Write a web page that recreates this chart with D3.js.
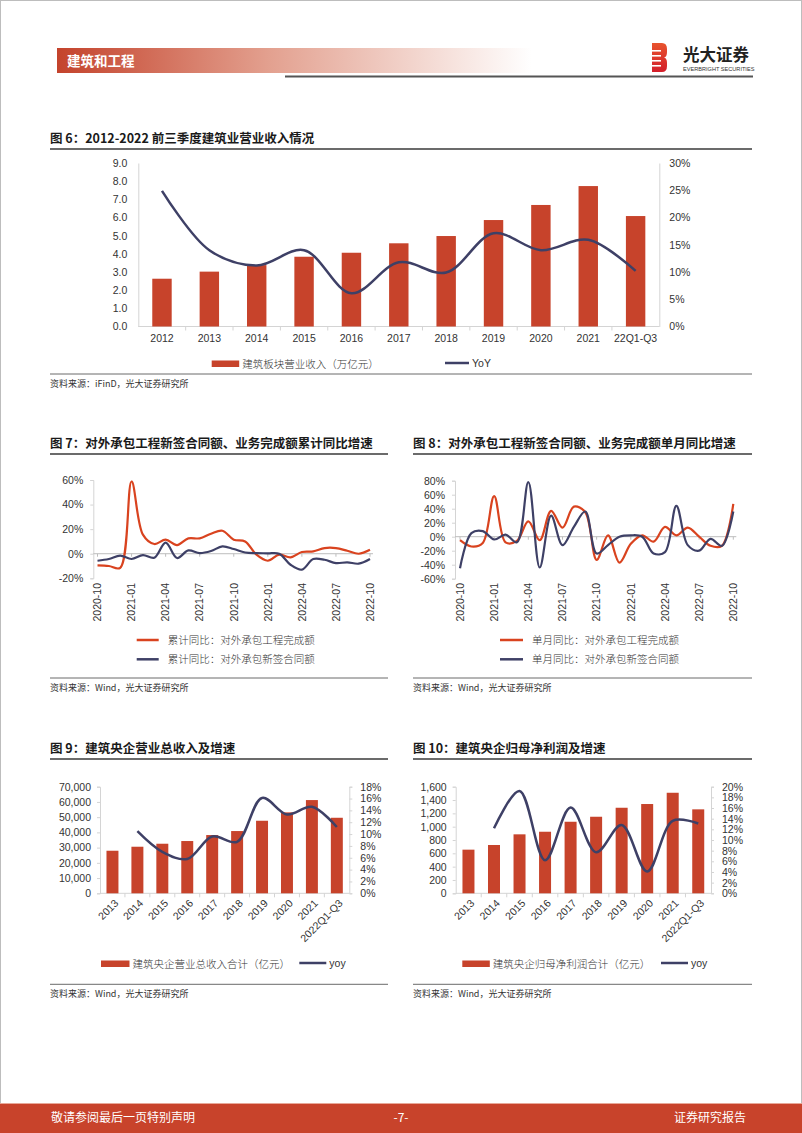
<!DOCTYPE html>
<html><head><meta charset="utf-8">
<script src="https://cdn.jsdelivr.net/npm/d3@7"></script>
<style>
body{margin:0;background:#fff}
svg{display:block}
text{font-family:"Liberation Sans",Arial,sans-serif}
</style></head><body>
<svg id="page" width="802" height="1133"></svg>
<script>
// ---------------- DATA ----------------
const fig6Categories = ["2012","2013","2014","2015","2016","2017","2018","2019","2020","2021","22Q1-Q3"];
const fig6Revenue = [2.63,3.02,3.38,3.84,4.06,4.58,4.98,5.86,6.69,7.73,6.08];
const fig6Yoy = [24.9,14.0,11.2,14.0,6.1,11.8,9.9,17.1,14.0,15.9,10.2];
const fig6LeftTicks = [0,1,2,3,4,5,6,7,8,9];
const fig6RightTicks = [0,5,10,15,20,25,30];

const fig78Months = ["2020-10","2020-11","2020-12","2021-01","2021-02","2021-03","2021-04","2021-05","2021-06","2021-07","2021-08","2021-09","2021-10","2021-11","2021-12","2022-01","2022-02","2022-03","2022-04","2022-05","2022-06","2022-07","2022-08","2022-09","2022-10"];
const fig78TickMonths = ["2020-10","2021-01","2021-04","2021-07","2021-10","2022-01","2022-04","2022-07","2022-10"];
const fig7Complete = [-9.5,-10,-11.5,58.8,15.5,7.9,11.4,7,12.5,12.5,16.3,18.7,11.4,10,-0.8,-5.7,-0.8,-3,1.4,1.9,4.6,4.6,2.4,0,3.2];
const fig7NewSign = [-5.7,-4.3,-1.6,-4.3,-1.1,-3.3,9,-3.5,2.7,0.5,2.2,6,3.8,1,0.5,0.3,0,-9,-13,-4.3,-4.9,-7.6,-7,-8.1,-4.3];
const fig7Ticks = [-20,0,20,40,60];
const fig8Complete = [-5,-14,-9,58,-8,-6,22,-5,37,13,43,35,-33,2,-37,-10,2,-7,14,2,13,0,-13,-13,47];
const fig8NewSign = [-45,5,8,-4,3,-8,78,-44,30,-12,14,36,-24,-12,0,2,0,-24,-22,44,-12,-20,-3,-13,36];
const fig8Ticks = [-60,-40,-20,0,20,40,60,80];

const fig910Categories = ["2013","2014","2015","2016","2017","2018","2019","2020","2021","2022Q1-Q3"];
const fig9Revenue = [27950,30580,32550,34320,38250,40880,47640,53150,61220,49600];
const fig9Yoy = [null,10.5,7.0,5.8,9.6,8.7,16.1,13.3,14.6,11.2];
const fig9LeftTicks = [0,10000,20000,30000,40000,50000,60000,70000];
const fig9RightTicks = [0,2,4,6,8,10,12,14,16,18];
const fig10Profit = [655,725,885,924,1074,1149,1284,1340,1509,1260];
const fig10Yoy = [null,12.2,19.2,6.2,16.1,7.7,12.8,4.1,13.6,13.1];
const fig10LeftTicks = [0,200,400,600,800,1000,1200,1400,1600];
const fig10RightTicks = [0,2,4,6,8,10,12,14,16,18,20];

// ---------------- STYLE ----------------
const BAR = "#c7432b", NAVY = "#3e4066", RED = "#d9431f", AXIS = "#d4d4d4", TXT = "#333";
const CN = '"Noto Sans CJK SC","Noto Sans CJK JP",sans-serif';

const svg = d3.select("#page");
const defs = svg.append("defs");

// page border
svg.append("rect").attr("x",0.5).attr("y",0.5).attr("width",801).attr("height",1132)
  .attr("fill","none").attr("stroke","#bdbdbd");

// ---------------- HEADER ----------------
const hg = defs.append("linearGradient").attr("id","hdr").attr("x1","0").attr("x2","1");
hg.append("stop").attr("offset","0").attr("stop-color","#c4432c");
hg.append("stop").attr("offset","0.45").attr("stop-color","#e3a190");
hg.append("stop").attr("offset","1").attr("stop-color","#ffffff");
svg.append("rect").attr("x",57).attr("y",48).attr("width",475).attr("height",25).attr("fill","url(#hdr)");
svg.append("text").attr("x",67).attr("y",65.5).text("建筑和工程")
  .attr("fill","#fff").style("font-family",CN).style("font-weight",700).style("font-size","13.5px");
svg.append("line").attr("x1",285).attr("x2",753).attr("y1",76.5).attr("y2",76.5).attr("stroke","#555").attr("stroke-width",2);

// logo
const lg = defs.append("linearGradient").attr("id","logo").attr("x1","0").attr("x2","0").attr("y1","0").attr("y2","1");
lg.append("stop").attr("offset","0").attr("stop-color","#e8542e");
lg.append("stop").attr("offset","1").attr("stop-color","#d31e2a");
svg.append("path").attr("d","M652,43 H662 Q667,43 667,49 V52 Q667,57 664,57.5 Q667,58 667,63 V66 Q667,72 662,72 H652 Z").attr("fill","url(#logo)");
[50,55,60,65].forEach(yy=>{
  svg.append("rect").attr("x",652).attr("y",yy).attr("width",9).attr("height",1.6).attr("fill","#fff");
});
svg.append("text").attr("x",683).attr("y",61).text("光大证券")
  .attr("fill","#222").style("font-family",CN).style("font-weight",700).style("font-size","16.5px");
svg.append("text").attr("x",683).attr("y",70.5).text("EVERBRIGHT SECURITIES")
  .attr("fill","#333").style("font-size","5.6px");

// ---------------- FOOTER ----------------
svg.append("rect").attr("x",0).attr("y",1103).attr("width",802).attr("height",30).attr("fill","#c8432b");
svg.append("line").attr("x1",0).attr("x2",802).attr("y1",1103.5).attr("y2",1103.5).attr("stroke","#e8a898");
svg.append("text").attr("x",51).attr("y",1122).text("敬请参阅最后一页特别声明")
  .attr("fill","#fff").style("font-family",CN).style("font-size","12px");
svg.append("text").attr("x",401).attr("y",1122).attr("text-anchor","middle").text("-7-")
  .attr("fill","#fff").style("font-family",CN).style("font-size","12px");
svg.append("text").attr("x",746).attr("y",1122).attr("text-anchor","end").text("证券研究报告")
  .attr("fill","#fff").style("font-family",CN).style("font-size","12px");

// ---------------- helpers ----------------
function title(x, y, x2, str){
  svg.append("text").attr("x",x).attr("y",y).text(str)
    .attr("fill","#1a1a1a").style("font-family",CN).style("font-weight",700).style("font-size","12.5px");
  svg.append("line").attr("x1",x).attr("x2",x2).attr("y1",y+6.5).attr("y2",y+6.5)
    .attr("stroke","#6b6b6b").attr("stroke-width",2);
}
function source(x, y, x2, str){
  svg.append("line").attr("x1",x).attr("x2",x2).attr("y1",y).attr("y2",y).attr("stroke","#444").attr("stroke-width",0.8);
  svg.append("text").attr("x",x).attr("y",y+12.5).text(str)
    .attr("fill",TXT).style("font-family",CN).style("font-size","9px");
}
function styleAxis(sel, fs){
  sel.select(".domain").attr("stroke",AXIS);
  sel.selectAll(".tick line").attr("stroke",AXIS);
  sel.selectAll(".tick text").attr("fill",TXT).style("font-family",'"Liberation Sans",Arial,sans-serif').style("font-size",fs);
}
function legendBar(x, y, w, label){
  svg.append("rect").attr("x",x).attr("y",y-3).attr("width",w).attr("height",6.5).attr("fill",BAR);
  svg.append("text").attr("x",x+w+3).attr("y",y+4).text(label)
    .attr("fill",TXT).style("font-family",CN).style("font-weight",300).style("font-size","10.5px");
}
function legendLine(x, y, w, color, label, latin){
  svg.append("line").attr("x1",x).attr("x2",x+w).attr("y1",y).attr("y2",y).attr("stroke",color).attr("stroke-width",2.5);
  const t = svg.append("text").attr("x",x+w+(latin?3:9)).attr("y",y+4).text(label).attr("fill",TXT)
    .style("font-size","10.5px");
  if(!latin) t.style("font-family",CN).style("font-weight",300);
}

// combo: bars (left axis) + smooth line (right axis)
function combo(o){
  const x = d3.scaleBand().domain(o.cats).range([o.x0,o.x1]).padding(0);
  const yL = d3.scaleLinear().domain([o.leftTicks[0], o.leftTicks[o.leftTicks.length-1]]).range([o.yB,o.yT]);
  const yR = d3.scaleLinear().domain([o.rightTicks[0], o.rightTicks[o.rightTicks.length-1]]).range([o.yB,o.yT]);

  const aL = svg.append("g").attr("transform",`translate(${o.x0},0)`)
    .call(d3.axisLeft(yL).tickValues(o.leftTicks).tickFormat(o.leftFmt).tickSizeOuter(0).tickSize(o.tick).tickPadding(o.padL));
  styleAxis(aL, o.fs);
  const aR = svg.append("g").attr("transform",`translate(${o.x1},0)`)
    .call(d3.axisRight(yR).tickValues(o.rightTicks).tickFormat(d=>d+"%").tickSizeOuter(0).tickSize(o.tick).tickPadding(o.padR));
  styleAxis(aR, o.fs);
  aR.selectAll(".tick text").attr("text-anchor","start");

  // bottom axis line + ticks between categories
  svg.append("line").attr("x1",o.x0).attr("x2",o.x1).attr("y1",o.yB).attr("y2",o.yB).attr("stroke",AXIS);
  o.cats.forEach((c,i)=>{
    if(i===0) return;
    const bx = x(c);
    svg.append("line").attr("x1",bx).attr("x2",bx).attr("y1",o.yB).attr("y2",o.yB+4).attr("stroke",AXIS);
  });

  // bars
  const bw = x.bandwidth()*o.barFrac;
  svg.append("g").selectAll("rect").data(o.bars).join("rect")
    .attr("x",(d,i)=>x(o.cats[i])+(x.bandwidth()-bw)/2)
    .attr("y",d=>yL(d)).attr("width",bw).attr("height",d=>o.yB-yL(d)).attr("fill",BAR);

  // line
  const line = d3.line().defined(d=>d!=null)
    .x((d,i)=>x(o.cats[i])+x.bandwidth()/2).y(d=>yR(d)).curve(d3.curveCatmullRom.alpha(0.5));
  const pts = o.line.map((d,i)=>d);
  svg.append("path").datum(pts).attr("d",line).attr("fill","none").attr("stroke",NAVY).attr("stroke-width",o.lw);

  // x labels
  const lab = svg.append("g");
  o.cats.forEach(c=>{
    const cx = x(c)+x.bandwidth()/2;
    if(o.rot){
      lab.append("text").attr("transform",`translate(${cx+4},${o.yB+8}) rotate(-45)`)
        .attr("text-anchor","end").attr("dy","0.35em").text(c)
        .attr("fill",TXT).style("font-size",o.fs);
    } else {
      lab.append("text").attr("x",cx).attr("y",o.yB+15.5).attr("text-anchor","middle").text(c)
        .attr("fill",TXT).style("font-size",o.fs);
    }
  });
}

// twin line chart
function lines(o){
  const x = d3.scalePoint().domain(fig78Months).range([o.xa,o.xb]);
  const y = d3.scaleLinear().domain([o.ticks[0],o.ticks[o.ticks.length-1]]).range([o.yB,o.yT]);
  const ax = svg.append("g").attr("transform",`translate(${o.axisX},0)`)
    .call(d3.axisLeft(y).tickValues(o.ticks).tickFormat(d=>d+"%").tickSizeOuter(0).tickSize(3).tickPadding(7));
  styleAxis(ax,"10.5px");
  // zero line
  svg.append("line").attr("x1",o.axisX).attr("x2",o.xb+3).attr("y1",y(0)).attr("y2",y(0)).attr("stroke","#bdbdbd");
  fig78TickMonths.forEach(m=>{
    svg.append("line").attr("x1",x(m)).attr("x2",x(m)).attr("y1",y(0)).attr("y2",y(0)+3).attr("stroke","#bdbdbd");
    svg.append("text").attr("transform",`translate(${x(m)},${o.labY}) rotate(-90)`)
      .attr("text-anchor","end").attr("dy","0.36em").text(m).attr("fill",TXT).style("font-size","10.5px");
  });
  const ln = d3.line().x((d,i)=>x(fig78Months[i])).y(d=>y(d)).curve(d3.curveCatmullRom.alpha(0.5));
  svg.append("path").datum(o.a).attr("d",ln).attr("fill","none").attr("stroke",RED).attr("stroke-width",2.2);
  svg.append("path").datum(o.b).attr("d",ln).attr("fill","none").attr("stroke",NAVY).attr("stroke-width",2.2);
}

// ---------------- FIG 6 ----------------
title(50, 142.5, 752, "图 6：2012-2022 前三季度建筑业营业收入情况");
combo({cats:fig6Categories, bars:fig6Revenue, line:fig6Yoy,
  leftTicks:fig6LeftTicks, rightTicks:fig6RightTicks, leftFmt:d3.format(".1f"),
  x0:138.3, x1:659.3, yT:163, yB:326.5, tick:0, padL:11, padR:10, fs:"10.5px",
  barFrac:0.41, lw:2.5, rot:false});
legendBar(211.7, 363.5, 27.5, "建筑板块营业收入（万亿元）");
legendLine(445, 363, 24, NAVY, "YoY", true);
source(50, 374, 752, "资料来源：iFinD，光大证券研究所");

// ---------------- FIG 7 ----------------
title(50, 447.5, 388, "图 7：对外承包工程新签合同额、业务完成额累计同比增速");
lines({ticks:fig7Ticks, a:fig7Complete, b:fig7NewSign, axisX:93.3, xa:97.5, xb:370, yT:480, yB:578.3, labY:583});
legendLine(136.7, 640, 22, RED, "累计同比：对外承包工程完成额", false);
legendLine(136.7, 659.3, 22, NAVY, "累计同比：对外承包新签合同额", false);
source(50, 678, 388, "资料来源：Wind，光大证券研究所");

// ---------------- FIG 8 ----------------
title(413, 447.5, 752, "图 8：对外承包工程新签合同额、业务完成额单月同比增速");
lines({ticks:fig8Ticks, a:fig8Complete, b:fig8NewSign, axisX:455, xa:460, xb:733.3, yT:480.7, yB:578.7, labY:583});
legendLine(500, 640, 23, RED, "单月同比：对外承包工程完成额", false);
legendLine(500, 659.3, 23, NAVY, "单月同比：对外承包新签合同额", false);
source(413, 678, 752, "资料来源：Wind，光大证券研究所");

// ---------------- FIG 9 ----------------
title(50, 752.5, 388, "图 9：建筑央企营业总收入及增速");
combo({cats:fig910Categories, bars:fig9Revenue, line:fig9Yoy,
  leftTicks:fig9LeftTicks, rightTicks:fig9RightTicks, leftFmt:d3.format(","),
  x0:100, x1:349.3, yT:786.7, yB:893.3, tick:3, padL:6, padR:8, fs:"10.5px",
  barFrac:0.48, lw:2.5, rot:true});
legendBar(101, 963.5, 28.5, "建筑央企营业总收入合计（亿元）");
legendLine(299.3, 963, 27, NAVY, "yoy", true);
source(50, 984.3, 388, "资料来源：Wind，光大证券研究所");

// ---------------- FIG 10 ----------------
title(413, 752.5, 752, "图 10：建筑央企归母净利润及增速");
combo({cats:fig910Categories, bars:fig10Profit, line:fig10Yoy,
  leftTicks:fig10LeftTicks, rightTicks:fig10RightTicks, leftFmt:d3.format(","),
  x0:455.7, x1:711, yT:786.7, yB:893.3, tick:3, padL:6, padR:8, fs:"10.5px",
  barFrac:0.47, lw:2.5, rot:true});
legendBar(462.3, 963.5, 27.5, "建筑央企归母净利润合计（亿元）");
legendLine(661, 963, 27, NAVY, "yoy", true);
source(413, 984.3, 752, "资料来源：Wind，光大证券研究所");
</script>
</body></html>
